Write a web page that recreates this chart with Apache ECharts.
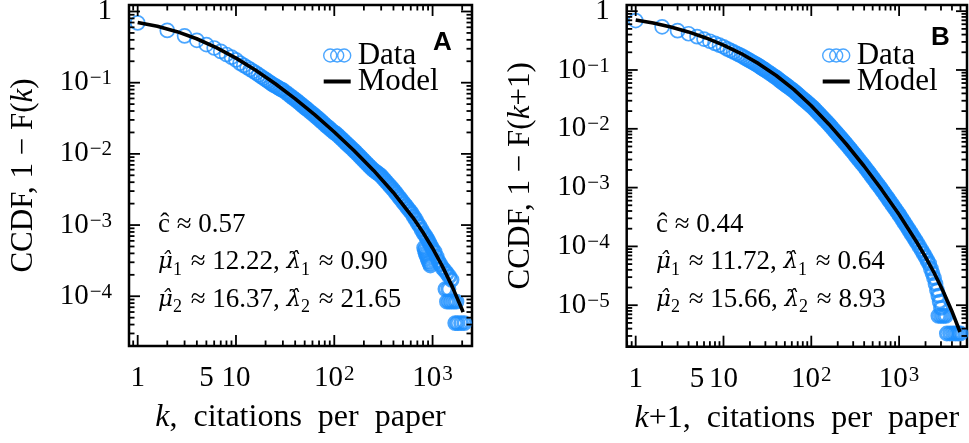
<!DOCTYPE html>
<html><head><meta charset="utf-8">
<script src="https://cdn.jsdelivr.net/npm/echarts@6/dist/echarts.min.js"></script>
<style>html,body{margin:0;padding:0;background:#fff}#c{width:969px;height:443px}</style>
</head><body><div id="c"></div>
<script>
// ---------- Panel A data ----------
const kA = [1,2,3,4,5,6,7,8,9,10,11,12,13,14,15,16,17,18,19,20,21,22,23,24,25,26,27,28,29,30,32,34,36,38,40,42,44,46,48,50,52,54,57,60,63,66,69,72,75,79,83,87,91,95,100,104,109,114,119,125,131,137,143,150,157,164,172,180,188,197,206,216,226,236,247,259,271,283,296,310,325,340,356,372,390,408,427,447,468,490,513,537,562,588,615,644,674,705,738,772,808,
  840,870,900,930,960,1000, 820,835,850,870,890,910,930,950, 1050,1100,1150,1200,1260,1330,1400,1480,1560, 1350,1450, 1400,1480,1560,1650,1750, 1700,1800,1950,2100];
const ccdfA = [0.692,0.543,0.455,0.394,0.3436,0.307,0.275,0.249,0.2286,0.209,0.1884,0.175,0.1633,0.1535,0.1445,0.1368,0.1291,0.1222,0.1161,0.1107,0.1057,0.1012,0.0968,0.0931,0.0905,0.0875,0.0847,0.082,0.0801,0.0784,0.0733,0.0688,0.0648,0.0612,0.058,0.055,0.0522,0.0496,0.0472,0.0451,0.0432,0.0413,0.0389,0.0367,0.0348,0.0328,0.0312,0.0296,0.0282,0.0264,0.0248,0.0235,0.0223,0.0211,0.0199,0.01932,0.01816,0.01714,0.01622,0.0152,0.01429,0.01349,0.01276,0.012,0.0113,0.01064,0.00996,0.00935,0.00878,0.00824,0.00774,0.00724,0.00679,0.0064,0.006,0.00571,0.00546,0.00522,0.00498,0.00463,0.00431,0.00402,0.00374,0.00349,0.00325,0.00301,0.00278,0.00256,0.00237,0.00218,0.00201,0.00186,0.00171,0.00158,0.00146,0.00131,0.00119,0.00106,0.00097,0.000865,0.000767,
  0.00072,0.00066,0.00061,0.00056,0.00051,0.00046, 0.00048,0.00044,0.0004,0.00037,0.00034,0.00031,0.00029,0.00027, 0.00042,0.00036,0.00031,0.00028,0.00025,0.00023,0.00021,0.00019,0.00017, 0.000126,0.000126, 0.000084,0.000084,0.000084,0.000084,0.000084, 0.000042,0.000042,0.000042,0.000042];
const modelKA = [1,1.585,2.512,3.981,6.31,10,15.85,25.12,39.81,63.1,100,158.5,251.2,398.1,631,794,1000,1259,1585,1995,2042];
const modelA  = [0.70,0.621,0.521,0.414,0.311,0.2213,0.1496,0.0966,0.0597,0.0355,0.0203,0.01117,0.00586,0.00287,0.001274,0.000798,0.000473,0.000263,0.0001365,0.0000653,0.00006];

// ---------- Panel B data ----------
const kB = [1,2,3,4,5,6,7,8,9,10,11,12,13,14,15,16,17,18,19,20,21,22,23,24,25,26,27,28,29,30,32,34,36,38,40,42,44,46,48,50,52,54,57,60,63,66,69,72,75,79,83,87,91,95,100,104,109,114,119,125,131,137,143,150,157,164,172,180,188,197,206,216,226,236,247,259,271,283,296,310,325,340,356,372,390,408,427,447,468,490,513,537,562,588,615,644,674,705,738,772,808,846,885,926,970,1015,1062,1112,1164,1218,1275,1334,1396,1461,1529,1600,1700,1800,1900,2000,2100,2200,
  2300,2400,2500,2600,2700,2800,2900,3000, 2800,3000,3200,3400, 3500,3800,4100,4400,4700,5000];
const ccdfB = [0.693,0.543,0.467,0.413,0.369,0.336,0.308,0.284,0.264,0.248,0.2286,0.2148,0.2028,0.1923,0.1828,0.1742,0.1656,0.1574,0.1503,0.1439,0.138,0.1327,0.1276,0.123,0.1189,0.1143,0.1099,0.1059,0.1023,0.0989,0.0927,0.0871,0.0822,0.0778,0.074,0.0698,0.0661,0.0627,0.0596,0.0574,0.0548,0.0525,0.0494,0.0468,0.0443,0.0417,0.0394,0.0372,0.0353,0.033,0.031,0.0292,0.0275,0.0261,0.0244,0.0231,0.0216,0.0201,0.0188,0.0174,0.0162,0.01507,0.01409,0.01309,0.01217,0.01132,0.01042,0.00964,0.00895,0.00826,0.00766,0.00706,0.00653,0.00607,0.00561,0.00515,0.00474,0.00438,0.00403,0.0037,0.00339,0.00312,0.00286,0.00264,0.00242,0.00222,0.00203,0.00185,0.00169,0.00154,0.00141,0.00128,0.00117,0.00107,0.00098,0.000891,0.000809,0.000735,0.000667,0.000605,0.000549,0.000498,0.000453,0.000411,0.000372,0.000337,0.000303,0.000272,0.000245,0.00022,0.000198,0.000178,0.00016,0.000144,0.000129,0.000116,0.0000998,0.0000863,0.0000753,0.0000661,0.0000578,0.0000509,
  0.000042,0.000035,0.000029,0.000023,0.000018,0.0000145,0.0000115,0.000009, 0.0000066,0.0000066,0.0000066,0.0000066, 0.0000033,0.0000033,0.0000033,0.0000033,0.0000033,0.0000033];
const modelKB = [1,1.585,2.512,3.981,6.31,10,15.85,25.12,39.81,63.1,100,158.5,251.2,398.1,631,1000,1585,1995,2512,3162,3981,4943];
const modelB  = [0.71,0.63,0.538,0.444,0.351,0.2655,0.1905,0.1282,0.0805,0.0468,0.0247,0.012,0.00546,0.00233,0.000931,0.000349,0.000119,0.0000665,0.0000353,0.0000175,0.000008,0.0000035];

// ---------- axis ranges and labels ----------
const xRangeA = [0.816, 2518], yRangeA = [2.0e-5, 1.234];
const xRangeB = [0.79, 5935],  yRangeB = [1.97e-6, 1.274];
const extraXLabels = [5];
const annotationA = ['0.57', '12.22', '0.90', '16.37', '21.65'];
const annotationB = ['0.44', '11.72', '0.64', '15.66', '8.93'];
const denseFromK = 30;   // where the reference's markers merge into a solid band

const SERIF = '"Liberation Serif", "DejaVu Serif", serif';
const SANS = '"Liberation Sans", Arial, sans-serif';
const BLUE = '#1e90ff';
const TICK_FS = 29;

function pair(xs, ys) { return xs.map((x, i) => [x, ys[i]]); }

function powLabel(v, isY) {
  const lg = Math.log10(v);
  const e = Math.round(lg);
  if (Math.abs(lg - e) > 1e-6) return '';
  if (e === 0) return '1';
  if (e === 1 && !isY) return '10';
  return '{b|10}{s|' + (e < 0 ? '\u2212' : '') + Math.abs(e) + '}';
}
const labelRich = {
  b: { fontFamily: SERIF, fontSize: TICK_FS, color: '#000' },
  s: { fontFamily: SERIF, fontSize: 21, color: '#000', verticalAlign: 'top', padding: [0, 0, 0, 1] }
};

function tickValues(range) {
  const out = [];
  for (let e = -7; e <= 4; e++) {
    for (let m = 1; m <= 9; m++) {
      const v = m * Math.pow(10, e);
      if (v >= range[0] && v <= range[1]) out.push({ v: v, major: m === 1 });
    }
  }
  return out;
}

function tickSeries(gi, xr, yr) {
  const xt = tickValues(xr), yt = tickValues(yr);
  return {
    type: 'custom', xAxisIndex: gi, yAxisIndex: gi, silent: true, clip: false, z: 10,
    data: [[1, 1]],
    renderItem: function (params, api) {
      const p0 = api.coord([xr[0], yr[0]]);
      const p1 = api.coord([xr[1], yr[1]]);
      const L = p0[0], B = p0[1], R = p1[0], T = p1[1];
      const ch = [];
      const ls = { stroke: '#000', lineWidth: 1.8 };
      xt.forEach(t => {
        const x = api.coord([t.v, yr[0]])[0];
        const len = t.major ? 11 : 5.5;
        ch.push({ type: 'line', shape: { x1: x, y1: B, x2: x, y2: B - len }, style: ls });
        ch.push({ type: 'line', shape: { x1: x, y1: T, x2: x, y2: T + len }, style: ls });
      });
      yt.forEach(t => {
        const y = api.coord([xr[0], t.v])[1];
        const len = t.major ? 11 : 5.5;
        ch.push({ type: 'line', shape: { x1: L, y1: y, x2: L + len, y2: y }, style: ls });
        ch.push({ type: 'line', shape: { x1: R, y1: y, x2: R - len, y2: y }, style: ls });
      });
      extraXLabels.forEach(v => {
        const x = api.coord([v, yr[0]])[0];
        ch.push({ type: 'text', x: x, y: B + 18,
          style: { text: String(v), font: TICK_FS + 'px ' + SERIF, fill: '#000', align: 'center', verticalAlign: 'top' } });
      });
      return { type: 'group', children: ch };
    }
  };
}

function nameRich(fs) {
  return {
    n: { fontFamily: SERIF, fontSize: fs, color: '#000' },
    i: { fontFamily: SERIF, fontSize: fs, color: '#000', fontStyle: 'italic' }
  };
}
function xAxisDef(gi, range, name) {
  return {
    type: 'log', logBase: 10, gridIndex: gi, min: range[0], max: range[1],
    axisLine: { show: false }, axisTick: { show: false }, splitLine: { show: false }, minorTick: { show: false },
    axisLabel: { formatter: v => powLabel(v, false), rich: labelRich, margin: 18, color: '#000', fontFamily: SERIF, fontSize: TICK_FS, hideOverlap: false },
    name: name, nameLocation: 'middle', nameGap: 56, nameTextStyle: { rich: nameRich(32) }
  };
}
function yAxisDef(gi, range, name) {
  return {
    type: 'log', logBase: 10, gridIndex: gi, min: range[0], max: range[1],
    axisLine: { show: false }, axisTick: { show: false }, splitLine: { show: false }, minorTick: { show: false },
    axisLabel: { formatter: v => powLabel(v, true), rich: labelRich, margin: 17, color: '#000', fontFamily: SERIF, fontSize: TICK_FS, hideOverlap: false },
    name: name, nameLocation: 'middle', nameGap: 90, nameRotate: 90, nameTextStyle: { rich: nameRich(31) }
  };
}

function annotation(vals, left) {
  const txt = '{t|\u0109 \u2248 ' + vals[0] + '}\n' +
    '{g|\u03bc\u0302}{s|1}{t| \u2248 ' + vals[1] + ', }{g|\u03bb\u0302}{s|1}{t| \u2248 ' + vals[2] + '}\n' +
    '{g|\u03bc\u0302}{s|2}{t| \u2248 ' + vals[3] + ', }{g|\u03bb\u0302}{s|2}{t| \u2248 ' + vals[4] + '}';
  return {
    text: txt, left: left, top: 206, padding: 0,
    textStyle: { fontWeight: 'normal', rich: {
      t: { fontFamily: SERIF, fontSize: 27, lineHeight: 37.5, color: '#000', fontWeight: 'normal' },
      g: { fontFamily: '"DejaVu Serif", serif', fontSize: 23, lineHeight: 37.5, color: '#000', fontStyle: 'italic', fontWeight: 'normal' },
      s: { fontFamily: SERIF, fontSize: 18, lineHeight: 18, color: '#000', fontWeight: 'normal', verticalAlign: 'bottom', padding: [0, 2, 2, 0] } } }
  };
}

const DATA_ICON = 'path://M0,7A6.5,6.5 0 1 1 13,7A6.5,6.5 0 1 1 0,7Z M7,7A6.5,6.5 0 1 1 20,7A6.5,6.5 0 1 1 7,7Z M14,7A6.5,6.5 0 1 1 27,7A6.5,6.5 0 1 1 14,7Z';
const LINE_ICON = 'path://M0,0L27,0L27,4L0,4Z';

function legendDef(left) {
  return {
    left: left, top: 35, orient: 'vertical', itemWidth: 27, itemHeight: 14, itemGap: -5,
    selectedMode: false, symbolKeepAspect: true,
    data: [
      { name: 'Data', icon: DATA_ICON, itemStyle: { color: 'rgba(0,0,0,0)', borderColor: BLUE, borderWidth: 1.4 } },
      { name: 'Model', icon: LINE_ICON, itemStyle: { color: '#000', borderWidth: 0 } }
    ],
    textStyle: { fontFamily: SERIF, fontSize: 31, color: '#000', padding: [0, 0, 0, 2] }
  };
}

function dataSeries(gi, data, dense) {
  return { name: 'Data', type: 'scatter', xAxisIndex: gi, yAxisIndex: gi,
    data: data.filter(d => dense ? d[0] >= denseFromK : d[0] < denseFromK),
    symbol: 'circle', symbolSize: dense ? 13 : 14,
    clip: false, itemStyle: { color: 'rgba(0,0,0,0)', borderColor: BLUE, borderWidth: dense ? 2.8 : 1.7 }, z: 3 };
}
function modelSeries(gi, data) {
  return { name: 'Model', type: 'line', xAxisIndex: gi, yAxisIndex: gi, data: data, showSymbol: false, symbol: 'none',
    smooth: false, lineStyle: { color: '#000', width: 3.6, join: 'round' }, itemStyle: { color: '#000' }, z: 4 };
}

const chart = echarts.init(document.getElementById('c'), null, { renderer: 'canvas' });
chart.setOption({
  animation: false,
  backgroundColor: '#fff',
  grid: [
    { left: 129, top: 5, width: 343, height: 341, show: true, borderColor: '#000', borderWidth: 2.5, backgroundColor: 'rgba(0,0,0,0)', outerBoundsMode: 'none', containLabel: false },
    { left: 626.7, top: 5, width: 340.3, height: 341.7, show: true, borderColor: '#000', borderWidth: 2.5, backgroundColor: 'rgba(0,0,0,0)', outerBoundsMode: 'none', containLabel: false }
  ],
  xAxis: [
    xAxisDef(0, xRangeA, '{i|k}{n|,  citations  per  paper}'),
    xAxisDef(1, xRangeB, '{i|k}{n|+1,  citations  per  paper}')
  ],
  yAxis: [
    yAxisDef(0, yRangeA, '{n|CCDF, 1 \u2212 F(}{i|k}{n|)}'),
    yAxisDef(1, yRangeB, '{n|CCDF, 1 \u2212 F(}{i|k}{n|+1)}')
  ],
  legend: [legendDef(318), legendDef(817)],
  title: [
    { text: 'A', left: 433, top: 30, padding: 0, textStyle: { fontFamily: SANS, fontWeight: 'bold', fontSize: 26, color: '#000' } },
    { text: 'B', left: 931, top: 25, padding: 0, textStyle: { fontFamily: SANS, fontWeight: 'bold', fontSize: 26, color: '#000' } },
    annotation(annotationA, 158),
    annotation(annotationB, 656)
  ],
  series: [
    dataSeries(0, pair(kA, ccdfA), false),
    dataSeries(0, pair(kA, ccdfA), true),
    modelSeries(0, pair(modelKA, modelA)),
    tickSeries(0, xRangeA, yRangeA),
    dataSeries(1, pair(kB, ccdfB), false),
    dataSeries(1, pair(kB, ccdfB), true),
    modelSeries(1, pair(modelKB, modelB)),
    tickSeries(1, xRangeB, yRangeB)
  ]
});
</script>
</body></html>
